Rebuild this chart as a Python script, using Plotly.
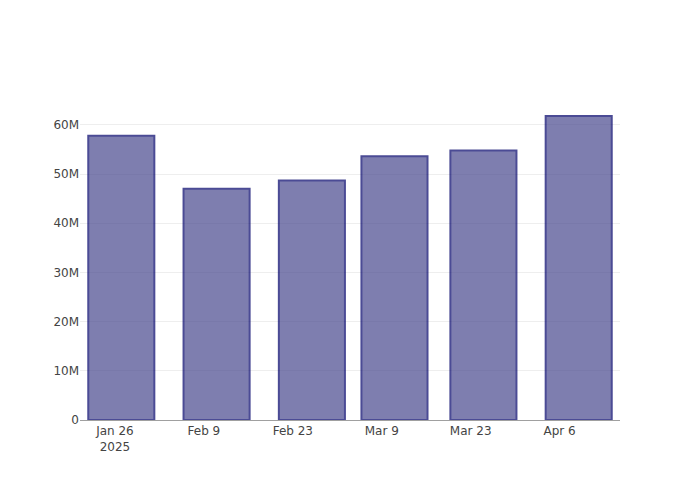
import plotly.graph_objects as go

dates = ["2025-01-27", "2025-02-11", "2025-02-26", "2025-03-11", "2025-03-25", "2025-04-09"]
values = [57.8e6, 47.0e6, 48.7e6, 53.6e6, 54.8e6, 61.8e6]

fig = go.Figure(
    go.Bar(
        x=dates,
        y=values,
        marker=dict(color="rgb(72,72,142)", line=dict(color="rgb(0,0,105)", width=2)),
        opacity=0.7,
    )
)
fig.update_layout(
    template="none",
    font=dict(family="DejaVu Sans", size=12, color="#444"),
    plot_bgcolor="white",
    paper_bgcolor="white",
    showlegend=False,
    margin=dict(l=72, r=72, t=92, b=72),
)
fig.update_xaxes(showline=True, linecolor="#a0a0a0", linewidth=1, showgrid=False, zeroline=False, ticks="")
fig.update_yaxes(zeroline=False, gridcolor="#eee", ticks="", showline=False)
fig.write_html("out.html")
